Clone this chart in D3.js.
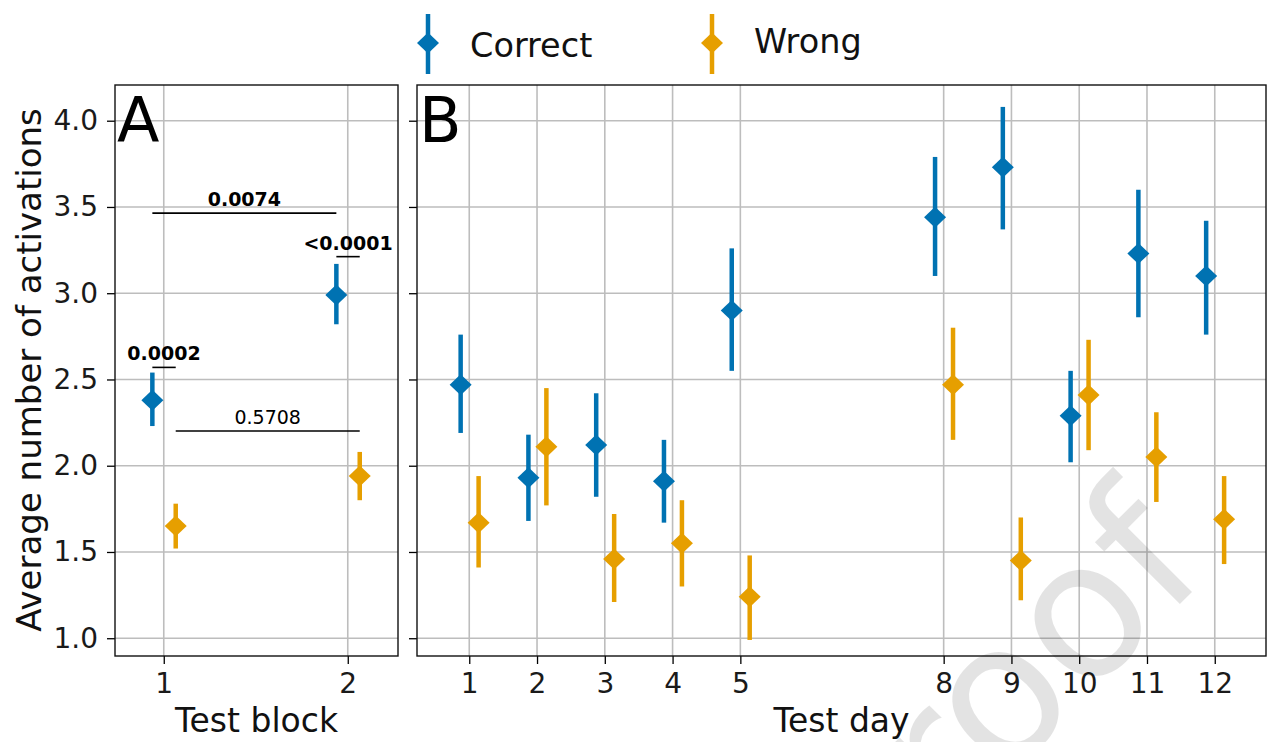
<!DOCTYPE html>
<html>
<head>
<meta charset="utf-8">
<script src="https://cdnjs.cloudflare.com/ajax/libs/d3/7.8.5/d3.min.js"></script>
<style>
  body { margin: 0; background: #fff; }
  svg { display: block; font-family: "DejaVu Sans", sans-serif; }
</style>
</head>
<body>
<script>
// Data
const blocks = [1, 2]
const blockCorrect = [2.38, 2.99]
const blockCorrectLo = [2.23, 2.82]
const blockCorrectHi = [2.54, 3.17]
const blockWrong = [1.65, 1.94]
const blockWrongLo = [1.52, 1.80]
const blockWrongHi = [1.78, 2.08]

const days = [1, 2, 3, 4, 5, 8, 9, 10, 11, 12]
const dayCorrect = [2.47, 1.93, 2.12, 1.91, 2.90, 3.44, 3.73, 2.29, 3.23, 3.10]
const dayCorrectLo = [2.19, 1.68, 1.82, 1.67, 2.55, 3.10, 3.37, 2.02, 2.86, 2.76]
const dayCorrectHi = [2.76, 2.18, 2.42, 2.15, 3.26, 3.79, 4.08, 2.55, 3.60, 3.42]
const dayWrong = [1.67, 2.11, 1.46, 1.55, 1.24, 2.47, 1.45, 2.41, 2.05, 1.69]
const dayWrongLo = [1.41, 1.77, 1.21, 1.30, 0.99, 2.15, 1.22, 2.09, 1.79, 1.43]
const dayWrongHi = [1.94, 2.45, 1.72, 1.80, 1.48, 2.80, 1.70, 2.73, 2.31, 1.94]

const yTicks = [1.0, 1.5, 2.0, 2.5, 3.0, 3.5, 4.0]
const seriesNames = ["Correct", "Wrong"]

// p-value brackets in panel A: [series, index] to [series, index]
const comparisons = [
  { a: [0, 0], b: [0, 1], y: 3.464, label: "0.0074", bold: true },
  { a: [0, 1], b: [1, 1], y: 3.212, label: "<0.0001", bold: true },
  { a: [0, 0], b: [1, 0], y: 2.570, label: "0.0002", bold: true },
  { a: [1, 0], b: [1, 1], y: 2.201, label: "0.5708", bold: false }
]

// Layout
const W = 1268, H = 742
const plotTop = 85, plotBottom = 656
const colors = ["#0072B2", "#E69F00"]

const svg = d3.select("body").append("svg")
  .attr("width", W).attr("height", H)

const y = d3.scaleLinear().domain([0.897, 4.207]).range([plotBottom, plotTop])

const panels = [
  {
    letter: "A", left: 115, right: 398, domain: [0.735, 2.273], ticks: blocks,
    offsets: [-0.062, 0.065], xLabel: "Test block", showY: true,
    series: [
      { x: blocks, v: blockCorrect, lo: blockCorrectLo, hi: blockCorrectHi },
      { x: blocks, v: blockWrong, lo: blockWrongLo, hi: blockWrongHi }
    ]
  },
  {
    letter: "B", left: 417, right: 1266, domain: [0.229, 12.756], ticks: days,
    offsets: [-0.127, 0.138], xLabel: "Test day", showY: false,
    series: [
      { x: days, v: dayCorrect, lo: dayCorrectLo, hi: dayCorrectHi },
      { x: days, v: dayWrong, lo: dayWrongLo, hi: dayWrongHi }
    ]
  }
]

const diamond = (cx, cy) => `M${cx},${cy - 10.5}L${cx + 11},${cy}L${cx},${cy + 10.5}L${cx - 11},${cy}Z`

panels.forEach(p => {
  const x = d3.scaleLinear().domain(p.domain).range([p.left, p.right])
  p.x = x
  const g = svg.append("g")

  // grid
  g.selectAll(".vgrid").data(p.ticks).enter().append("line")
    .attr("x1", d => x(d)).attr("x2", d => x(d))
    .attr("y1", plotTop).attr("y2", plotBottom)
    .attr("stroke", "#bdbdbd").attr("stroke-width", 1.6)
  g.selectAll(".hgrid").data(yTicks).enter().append("line")
    .attr("x1", p.left).attr("x2", p.right)
    .attr("y1", d => y(d)).attr("y2", d => y(d))
    .attr("stroke", "#bdbdbd").attr("stroke-width", 1.6)

  // axes
  const xAxis = g.append("g")
    .attr("transform", `translate(0,${plotBottom})`)
    .call(d3.axisBottom(x).tickValues(p.ticks).tickSize(8).tickPadding(9).tickFormat(d3.format("d")))
  const yAxis = g.append("g")
    .attr("transform", `translate(${p.left},0)`)
    .call(d3.axisLeft(y).tickValues(yTicks).tickSize(8).tickPadding(9)
      .tickFormat(p.showY ? d3.format(".1f") : ""))
  ;[xAxis, yAxis].forEach(a => {
    a.select(".domain").remove()
    a.selectAll(".tick line").attr("stroke", "#000").attr("stroke-width", 1.3)
    a.selectAll(".tick text").attr("fill", "#1a1a1a")
      .style("font-size", "28px").style("font-family", "DejaVu Sans")
  })

  // error bars and markers
  p.series.forEach((s, si) => {
    const cx = i => x(s.x[i] + p.offsets[si])
    const idx = d3.range(s.x.length)
    g.selectAll(null).data(idx).enter().append("line")
      .attr("x1", cx).attr("x2", cx)
      .attr("y1", i => y(s.lo[i])).attr("y2", i => y(s.hi[i]))
      .attr("stroke", colors[si]).attr("stroke-width", 4.5)
    g.selectAll(null).data(idx).enter().append("path")
      .attr("d", i => diamond(cx(i), y(s.v[i])))
      .attr("fill", colors[si])
  })

  // frame
  g.append("rect")
    .attr("x", p.left).attr("y", plotTop)
    .attr("width", p.right - p.left).attr("height", plotBottom - plotTop)
    .attr("fill", "none").attr("stroke", "#111").attr("stroke-width", 1.4)

  // panel letter
  g.append("text")
    .attr("x", p.left + 2).attr("y", 142)
    .style("font-size", "62px").text(p.letter)

  // x label
  g.append("text")
    .attr("x", (p.left + p.right) / 2).attr("y", 732)
    .attr("text-anchor", "middle")
    .style("font-size", "33px").attr("fill", "#111")
    .text(p.xLabel)
})

// y label
svg.append("text")
  .attr("transform", "translate(41,370) rotate(-90)")
  .attr("text-anchor", "middle")
  .style("font-size", "34px").attr("fill", "#111")
  .text("Average number of activations")

// significance brackets (panel A)
const pa = panels[0]
const bx = ([si, i]) => pa.x(pa.series[si].x[i] + pa.offsets[si])
const brackets = svg.append("g")
comparisons.forEach(c => {
  const x1 = bx(c.a), x2 = bx(c.b)
  brackets.append("line")
    .attr("x1", x1).attr("x2", x2)
    .attr("y1", y(c.y)).attr("y2", y(c.y))
    .attr("stroke", "#000").attr("stroke-width", 1.6)
  brackets.append("text")
    .attr("x", (x1 + x2) / 2).attr("y", y(c.y) - 7)
    .attr("text-anchor", "middle")
    .style("font-size", "19px")
    .style("font-weight", c.bold ? "bold" : "normal")
    .text(c.label)
})

// legend
const legendX = [428, 712]
const legendBase = [57, 53]
const legend = svg.append("g")
seriesNames.forEach((name, i) => {
  legend.append("line")
    .attr("x1", legendX[i]).attr("x2", legendX[i])
    .attr("y1", 14).attr("y2", 74)
    .attr("stroke", colors[i]).attr("stroke-width", 4.5)
  legend.append("path")
    .attr("d", diamond(legendX[i], 43))
    .attr("fill", colors[i])
  legend.append("text")
    .attr("x", legendX[i] + 42).attr("y", legendBase[i])
    .style("font-size", "33.5px").attr("fill", "#111")
    .text(name)
})

// watermark
svg.append("text")
  .attr("transform", "translate(870,914) rotate(-45)")
  .style("font-size", "190px")
  .attr("fill", "#000").attr("fill-opacity", 0.11)
  .text("Proof")
</script>
</body>
</html>
